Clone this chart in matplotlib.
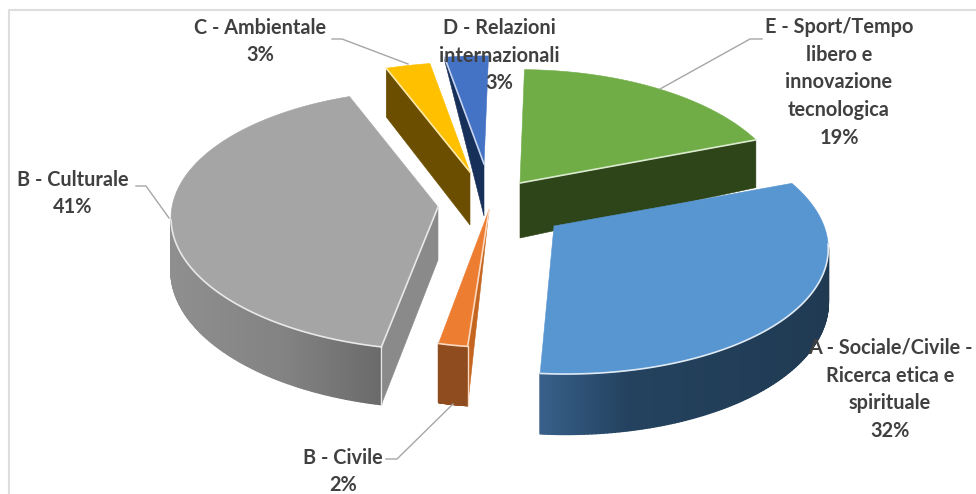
import numpy as np
import matplotlib
matplotlib.use("Agg")
import matplotlib.pyplot as plt
from matplotlib.patches import Polygon
from matplotlib.collections import PolyCollection
from matplotlib.colors import to_rgb

# ---- data ----
categories = ["A - Sociale/Civile -\nRicerca etica e\nspirituale", "B - Civile", "B - Culturale",
              "C - Ambientale", "D - Relazioni\ninternazionali",
              "E - Sport/Tempo\nlibero e\ninnovazione\ntecnologica"]
values = [32, 2, 41, 3, 3, 19]

# ---- geometry and style of the exploded 3-D pie ----
start_angle = 20.5
apex_x = [554, 489, 438, 470, 484, 520]
apex_y = [226, 210, 207, 172, 164, 183]
radius_x = [270, 203, 266, 270, 266, 264]
radius_y = [127.6, 118, 129, 125, 123, 129]
persp = [0.138, 0.138, 0.10, 0.138, 0.138, 0.138]
skew = [-0.08, 0.015, -0.03, 0.0, 0.0, 0.0]
depth_outer = [52, 51, 52, 55, 3, 50]
depth_apex = [52, 0, 53, 53, 52, 55]
cut_face = [None, "start", "start", "start", "start", "end"]
top_colors = ["#5796d0", "#ed7d31", "#a5a5a5", "#ffc000", "#4472c4", "#70ad47"]
cut_colors = [None, "#c4661f", "#8a8a8a", "#6b4e00", "#17305a", "#2d4518"]
edge_colors = ["#dfeaf5", "#fbd9c0", "#e8e8e8", "#ffe9a8", "#c5d3ee", "#dcebd0"]
side_stops = [
    [(0, "#37608a"), (0.3, "#24425f"), (1, "#203a52")],
    [(0, "#8f4c1e"), (1, "#8f4c1e")],
    [(0, "#8f8f8f"), (0.55, "#828282"), (1, "#6a6a6a")],
    None, None, None,
]
draw_order = [5, 4, 3, 2, 1, 0]

label_x = [890, 343, 73, 260, 499, 839]
label_y = [389.5, 471.5, 193.5, 41.5, 55.5, 82.5]
leaders = {
    1: [(386, 459), (397, 459), (453, 404)],
    2: [(136, 186), (146, 186), (169, 218)],
    3: [(332, 39), (342, 39), (408, 64)],
    5: [(762, 39), (750, 39), (660, 89)],
}

fig = plt.figure(figsize=(9.76, 4.94), dpi=100, facecolor="white")
ax = fig.add_axes([0, 0, 1, 1])
ax.set_xlim(0, 976)
ax.set_ylim(494, 0)
ax.axis("off")

# frame (left and top only are visible)
ax.plot([9, 9, 976], [494, 10, 10], color="#dedede", lw=1.5, zorder=0)

fractions = np.array(values) / np.sum(values)
ends = start_angle - 360 * np.cumsum(fractions)
starts = np.concatenate([[start_angle], ends[:-1]])


def project(i, theta_deg, depth=0.0):
    t = np.radians(theta_deg)
    c, s = np.cos(t), np.sin(t)
    w = 1 + persp[i] * s
    xp = radius_x[i] * c / w
    yp = radius_y[i] * s / w
    return apex_x[i] + xp + skew[i] * yp, apex_y[i] - yp + depth


def rim_depth(i, theta_deg):
    return depth_outer[i] / (1 + persp[i] * np.sin(np.radians(theta_deg)))


z = 2
for i in draw_order:
    a0, a1 = starts[i], ends[i]
    arc = np.linspace(a0, a1, 160)

    # radial cut face
    if cut_face[i]:
        a = a0 if cut_face[i] == "start" else a1
        ox, oy = project(i, a)
        d = rim_depth(i, a)
        ax.add_patch(Polygon([(apex_x[i], apex_y[i]), (ox, oy), (ox, oy + d),
                              (apex_x[i], apex_y[i] + depth_apex[i])],
                             closed=True, fc=cut_colors[i], ec=cut_colors[i], lw=0.4, zorder=z))

    # outer rim, lower half only
    limit = np.degrees(np.arcsin(persp[i]))
    hi = min(a0, -limit)
    lo = max(a1, -180 + limit)
    if side_stops[i] is not None and hi > lo:
        th = np.linspace(hi, lo, 120)
        xs, ys = project(i, th)
        dd = rim_depth(i, th)
        tnorm = (xs - xs.min()) / (xs.max() - xs.min())
        pos = [p for p, _ in side_stops[i]]
        rgb = np.array([to_rgb(col) for _, col in side_stops[i]])
        cols = []
        quads = []
        for k in range(len(th) - 1):
            quads.append([(xs[k], ys[k]), (xs[k + 1], ys[k + 1]),
                          (xs[k + 1], ys[k + 1] + dd[k + 1]), (xs[k], ys[k] + dd[k])])
            tm = 0.5 * (tnorm[k] + tnorm[k + 1])
            cols.append([np.interp(tm, pos, rgb[:, n]) for n in range(3)])
        ax.add_collection(PolyCollection(quads, facecolors=cols, edgecolors=cols,
                                         linewidths=1.2, zorder=z + 0.1))
        ax.plot(xs, ys, color=edge_colors[i], lw=1.2, zorder=z + 0.3)
        # vertical corner edge on the cut side
        if cut_face[i] == "start":
            ox, oy = project(i, a0)
            ax.plot([ox, ox], [oy, oy + rim_depth(i, a0)], color=edge_colors[i], lw=1.0, zorder=z + 0.3)
    # top surface
    x_arc, y_arc = project(i, arc)
    pts = [(apex_x[i], apex_y[i])] + list(zip(x_arc, y_arc))
    ax.add_patch(Polygon(pts, closed=True, fc=top_colors[i], ec=top_colors[i], lw=0.4, zorder=z + 0.2))
    # light edge between the top and the cut face
    if cut_face[i]:
        a = a0 if cut_face[i] == "start" else a1
        ox, oy = project(i, a)
        ax.plot([apex_x[i], ox], [apex_y[i], oy], color=edge_colors[i], lw=1.2, zorder=z + 0.3)
    z += 1

# leader lines
for i, path in leaders.items():
    px, py = zip(*path)
    ax.plot(px, py, color="#a6a6a6", lw=1.0, zorder=20)

# labels
for i, name in enumerate(categories):
    ax.text(label_x[i], label_y[i], f"{name}\n{values[i]}%", ha="center", va="center",
            family="Lato", weight="bold", fontsize=14.3, color="#404040",
            linespacing=1.48, zorder=30)

fig.savefig("out.png", dpi=100, facecolor="white")
